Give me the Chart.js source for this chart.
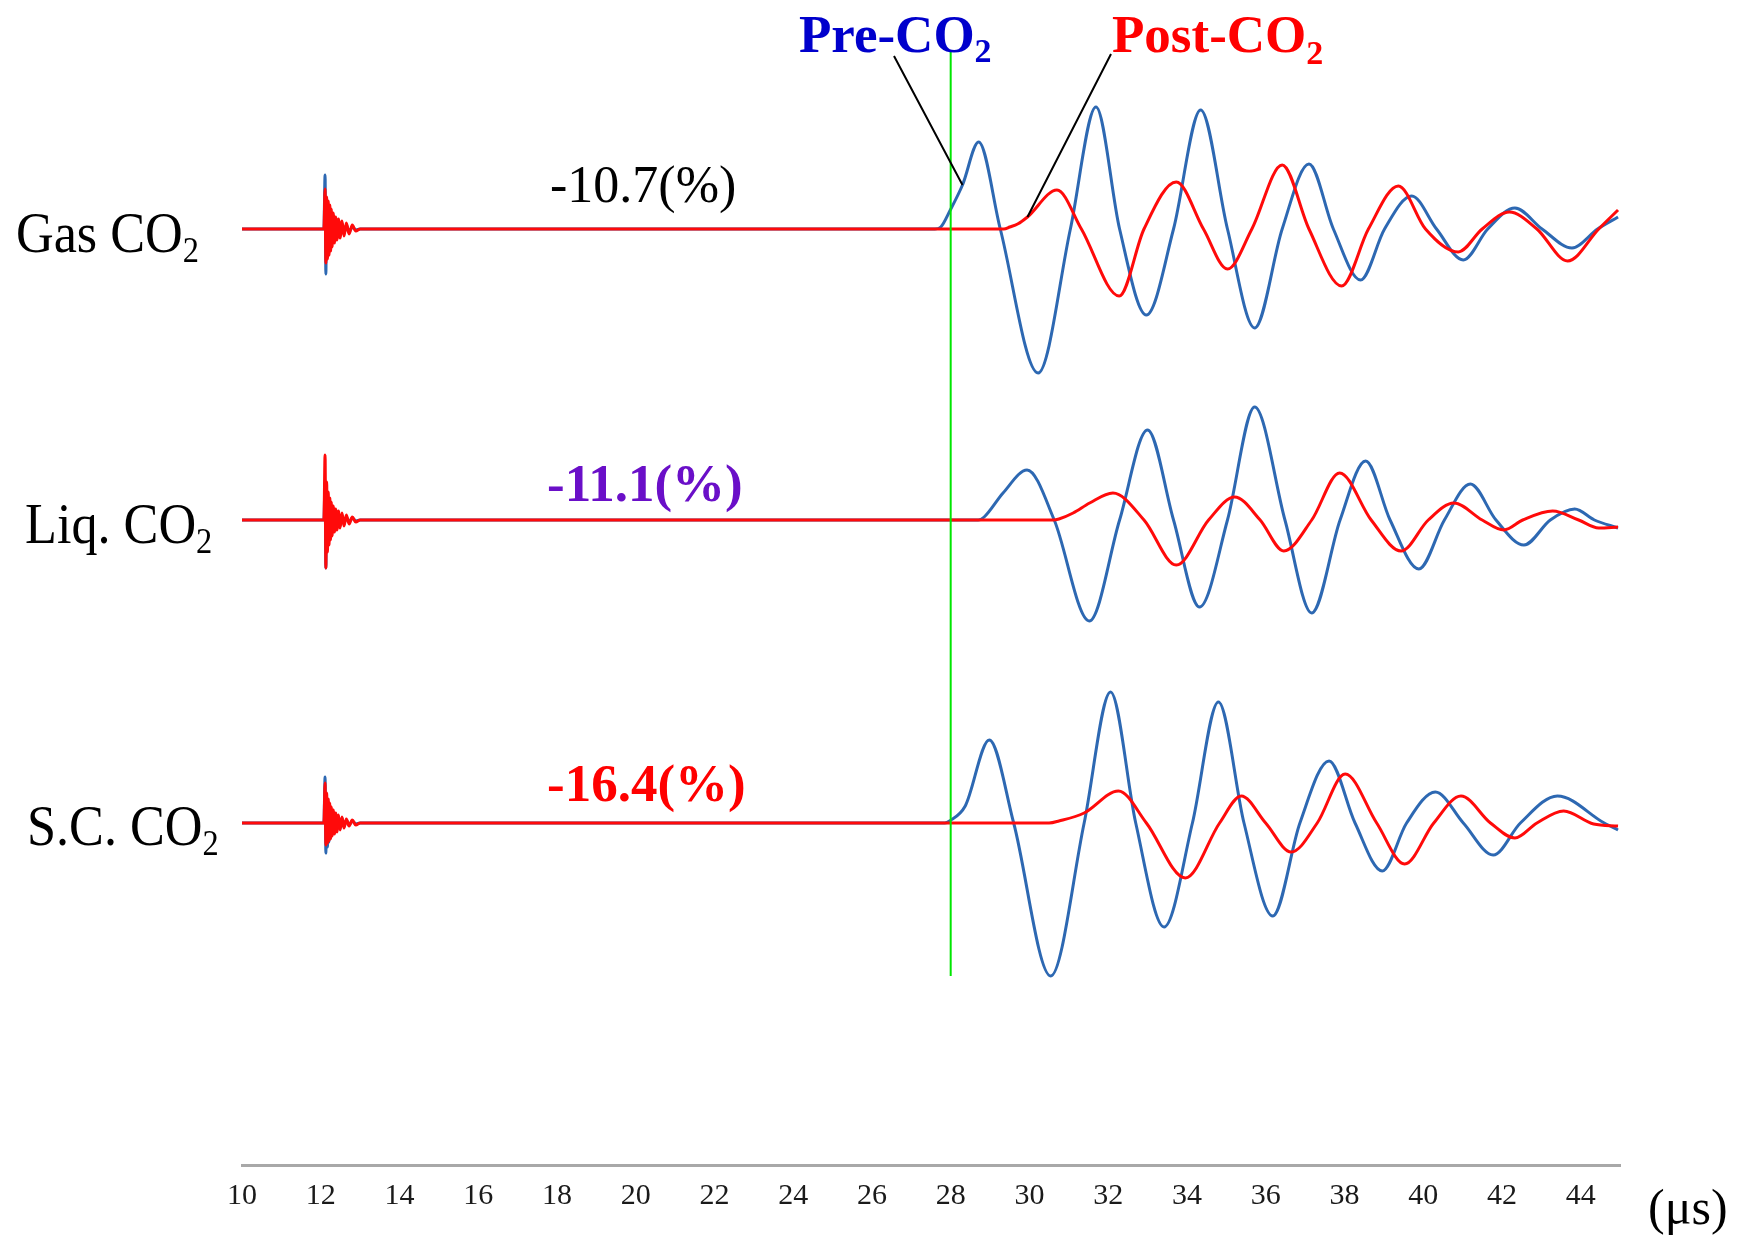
<!DOCTYPE html>
<html>
<head>
<meta charset="utf-8">
<script src="https://cdn.jsdelivr.net/npm/chart.js@4.4.1/dist/chart.umd.min.js"></script>
<style>
  html, body { margin: 0; padding: 0; background: #ffffff; }
  canvas { display: block; }
</style>
</head>
<body>
<canvas id="wave" width="1749" height="1240"></canvas>
<script>
// ---- time axis (µs) ----
const timeTicks = [10, 12, 14, 16, 18, 20, 22, 24, 26, 28, 30, 32, 34, 36, 38, 40, 42, 44];
const onsetTime = 28;          // first-arrival marker (µs)

// ---- source burst near 12 µs (time, then amplitude per trace) ----
const burstT = [12.08, 12.11, 12.13, 12.15, 12.17, 12.19, 12.21, 12.23, 12.25, 12.27, 12.29, 12.32,
                12.35, 12.38, 12.41, 12.45, 12.49, 12.54, 12.59, 12.65, 12.72, 12.80, 12.89, 13.00];
const gasPreBurst  = [0, 54, -45, 30, -28, 24, -22, 20, -18, 16, -14, 12, -11, 10, -9, 8, -7, 6, -5, 4, -3, 2, -1, 0];
const gasPostBurst = [0, 40, -34, 32, -30, 28, -26, 24, -22, 20, -18, 16, -14, 12, -11, 10, -9, 8, -7, 6, -5, 4, -2, 0];
const liqPreBurst  = [0, 40, -48, 30, -26, 22, -20, 18, -16, 14, -12, 11, -10, 9, -8, 7, -6, 5, -4, 3, -2, 2, -1, 0];
const liqPostBurst = [0, 65, -48, 38, -32, 28, -25, 22, -20, 18, -16, 14, -12, 11, -10, 9, -8, 7, -6, 5, -4, 3, -2, 0];
const scPreBurst   = [0, 46, -30, 26, -24, 21, -19, 17, -15, 13, -12, 11, -10, 9, -8, 7, -6, 5, -4, 3, -2, 2, -1, 0];
const scPostBurst  = [0, 40, -22, 30, -20, 24, -18, 20, -16, 16, -13, 13, -11, 10, -9, 8, -7, 6, -5, 4, -3, 3, -2, 0];

// ---- received waveforms: Gas CO2 ----
const gasPreT  = [27.6, 27.75, 27.99, 28.3, 28.71, 29.26, 30.22, 31.04, 31.69, 32.29, 32.97, 33.66, 34.35, 35.03, 35.72,
                  36.42, 37.10, 37.72, 38.41, 39.02, 39.71, 40.34, 41.02, 41.64, 42.33, 43.02, 43.78, 44.43, 44.95];
const gasPreA  = [0, 2, 19, 44, 87, 0, -144, 0, 122, 0, -86, 0, 119, 0, -99,
                  0, 65, 0, -51, 0, 33, 0, -31, 0, 21, 0, -19, 0, 12];
const gasPostT = [29.35, 29.5, 29.7, 29.95, 30.70, 31.32, 32.28, 32.91, 33.73, 34.42, 35.03, 35.65, 36.42, 37.10,
                  37.93, 38.61, 39.37, 40.06, 40.89, 41.50, 42.19, 42.89, 43.67, 44.46, 44.95];
const gasPostA = [0, 2, 5, 12, 39, 0, -67, 0, 47, 0, -40, 0, 64, 0,
                  -57, 0, 43, 0, -23, 0, 17, 0, -32, 0, 19];

// ---- received waveforms: Liquid CO2 ----
const liqPreT  = [28.7, 28.85, 29.33, 29.94, 30.63, 31.52, 32.29, 33.0, 33.66, 34.32, 35.03, 35.72, 36.49, 37.17,
                  37.89, 38.54, 39.16, 39.89, 40.54, 41.2, 41.85, 42.56, 43.23, 43.85, 44.35, 44.95];
const liqPreA  = [0, 3, 27, 50, 0, -101, 0, 90, 0, -87, 0, 113, 0, -93,
                  0, 59, 0, -49, 0, 36, 0, -25, 0, 11, 0, -8];
const liqPostT = [30.6, 30.75, 31.11, 31.53, 32.12, 32.91, 33.73, 34.55, 35.21, 35.86, 36.46, 37.17, 37.88, 38.68,
                  39.44, 40.13, 40.78, 41.50, 42.05, 42.53, 43.29, 43.95, 44.46, 44.95];
const liqPostA = [0, 1, 7, 17, 27, 0, -45, 0, 23, 0, -31, 0, 47, 0,
                  -31, 0, 17, 0, -10, 0, 9, 0, -8, -7];

// ---- received waveforms: Supercritical CO2 ----
const scPreT   = [27.85, 27.97, 28.37, 28.98, 29.60, 30.54, 31.39, 32.06, 32.70, 33.42, 34.14, 34.80, 35.45, 36.18,
                  36.87, 37.61, 38.27, 38.96, 39.58, 40.31, 41.02, 41.78, 42.47, 43.41, 44.6, 44.95];
const scPreA   = [0, 2, 17, 83, 0, -153, 0, 131, 0, -104, 0, 121, 0, -93,
                  0, 62, 0, -48, 0, 31, 0, -32, 0, 27, 0, -7];
const scPostT  = [30.5, 30.75, 31.39, 32.26, 32.97, 33.96, 34.83, 35.38, 36.0, 36.65, 37.31, 38.02, 38.82, 39.53,
                  40.27, 40.96, 41.71, 42.33, 42.89, 43.57, 44.33, 44.95];
const scPostA  = [0, 2, 10, 32, 0, -55, 0, 27, 0, -29, 0, 49, 0, -41,
                  0, 27, 0, -15, 0, 12, -1, -3];

// ---- layout: vertical offsets of the three stacked traces ----
const OFFSET = { gas: 936, liq: 645, sc: 342 };
const Y_MAX = 1165;
const MARKER_SPAN = [189, 1115];

const PRE_COLOR = '#2d68b2';
const POST_COLOR = '#ff0a0a';
const MARK_COLOR = '#00e600';

function buildTrace(offset, burstA, waveT, waveA) {
  const pts = [{ x: 10, y: offset }];
  burstT.forEach((t, i) => pts.push({ x: t, y: offset + burstA[i] }));
  waveT.forEach((t, i) => pts.push({ x: t, y: offset + waveA[i] }));
  return pts;
}

function lineSet(data, color) {
  return {
    data, borderColor: color, borderWidth: 3, pointRadius: 0,
    cubicInterpolationMode: 'monotone', fill: false
  };
}

const datasets = [
  { data: [{ x: onsetTime, y: MARKER_SPAN[0] }, { x: onsetTime, y: MARKER_SPAN[1] }],
    borderColor: MARK_COLOR, borderWidth: 2, pointRadius: 0, tension: 0 },
  lineSet(buildTrace(OFFSET.gas, gasPostBurst, gasPostT, gasPostA), POST_COLOR),
  lineSet(buildTrace(OFFSET.liq, liqPostBurst, liqPostT, liqPostA), POST_COLOR),
  lineSet(buildTrace(OFFSET.sc,  scPostBurst,  scPostT,  scPostA),  POST_COLOR),
  lineSet(buildTrace(OFFSET.gas, gasPreBurst,  gasPreT,  gasPreA),  PRE_COLOR),
  lineSet(buildTrace(OFFSET.liq, liqPreBurst,  liqPreT,  liqPreA),  PRE_COLOR),
  lineSet(buildTrace(OFFSET.sc,  scPreBurst,   scPreT,   scPreA),   PRE_COLOR)
];

function drawChem(ctx, x, y, main, sub, o) {
  ctx.save();
  ctx.translate(x, y);
  ctx.scale(o.sx || 1, 1);
  ctx.fillStyle = o.color;
  ctx.textAlign = 'left';
  ctx.textBaseline = 'alphabetic';
  ctx.font = o.font;
  ctx.fillText(main, 0, 0);
  if (sub) {
    const w = ctx.measureText(main).width;
    ctx.font = o.subFont;
    ctx.fillText(sub, w + (o.gap || 0), o.subDy);
  }
  ctx.restore();
}

const SERIF = '"Liberation Serif", "Times New Roman", serif';

const annotations = {
  id: 'annotations',
  afterDraw(chart) {
    const ctx = chart.ctx;
    const xs = chart.scales.x, ys = chart.scales.y;

    // pointer lines from the legend words to the first arrivals
    ctx.save();
    ctx.strokeStyle = '#000';
    ctx.lineWidth = 2;
    ctx.beginPath();
    ctx.moveTo(894, 56);
    ctx.lineTo(xs.getPixelForValue(gasPreT[3]), ys.getPixelForValue(OFFSET.gas + gasPreA[3]));
    ctx.moveTo(1111, 54);
    ctx.lineTo(xs.getPixelForValue(gasPostT[3]), ys.getPixelForValue(OFFSET.gas + gasPostA[3]));
    ctx.stroke();
    ctx.restore();

    const trace = { font: '58px ' + SERIF, subFont: '36px ' + SERIF, subDy: 10, sx: 0.9, color: '#000' };
    drawChem(ctx, 16, 252, 'Gas CO', '2', trace);
    drawChem(ctx, 25, 543, 'Liq. CO', '2', trace);
    drawChem(ctx, 27, 845, 'S.C. CO', '2', trace);

    drawChem(ctx, 550, 202, '-10.7(%)', null, { font: '52px ' + SERIF, color: '#000' });
    drawChem(ctx, 547, 501, '-11.1(%)', null, { font: 'bold 53px ' + SERIF, color: '#6a0fc8' });
    drawChem(ctx, 547, 801, '-16.4(%)', null, { font: 'bold 53px ' + SERIF, color: '#ff0000' });

    drawChem(ctx, 799, 52, 'Pre-CO', '2',
      { font: 'bold 53px ' + SERIF, subFont: 'bold 34px ' + SERIF, subDy: 10, color: '#0000cc' });
    drawChem(ctx, 1112, 52, 'Post-CO', '2',
      { font: 'bold 53px ' + SERIF, subFont: 'bold 34px ' + SERIF, subDy: 12, color: '#ff0000' });

    drawChem(ctx, 1648, 1224, '(μs)', null, { font: '50px ' + SERIF, color: '#000' });
  }
};

new Chart(document.getElementById('wave'), {
  type: 'line',
  data: { datasets },
  options: {
    responsive: false,
    animation: false,
    devicePixelRatio: 1,
    layout: { padding: { left: 242, right: 129, top: 0, bottom: 0 } },
    plugins: { legend: { display: false }, tooltip: { enabled: false } },
    scales: {
      x: {
        type: 'linear',
        position: 'bottom',
        min: 10,
        max: 45,
        grid: { display: false, drawTicks: false },
        border: { display: true, color: '#a8a8a8', width: 3 },
        afterBuildTicks(scale) { scale.ticks = timeTicks.map(v => ({ value: v })); },
        afterFit(scale) { scale.height = 75; },
        ticks: {
          autoSkip: false,
          maxRotation: 0,
          padding: 13,
          color: '#1a1a1a',
          font: { family: SERIF, size: 30 }
        }
      },
      y: { display: false, min: 0, max: Y_MAX }
    }
  },
  plugins: [annotations]
});
</script>
</body>
</html>
